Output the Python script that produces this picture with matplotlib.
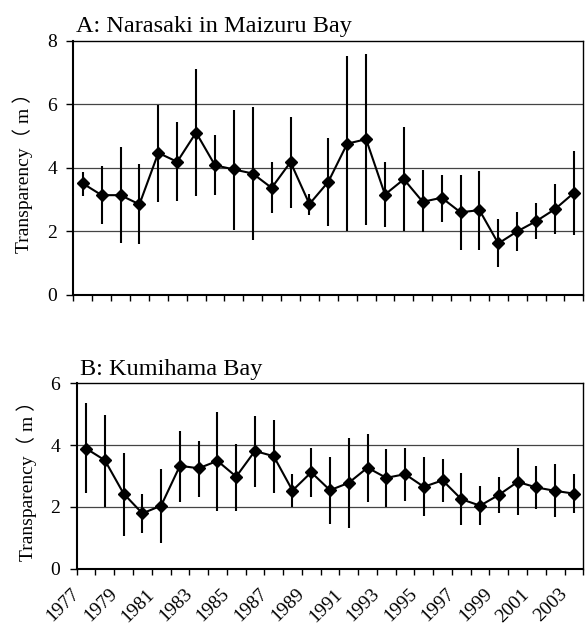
import matplotlib
matplotlib.use("Agg")
import matplotlib.pyplot as plt
import numpy as np

years = list(range(1977, 2004))

a_mean = [3.51, 3.14, 3.14, 2.85, 4.47, 4.19, 5.11, 4.08, 3.95, 3.82, 3.37, 4.18, 2.86, 3.56,
          4.76, 4.90, 3.16, 3.64, 2.93, 3.06, 2.60, 2.67, 1.62, 2.00, 2.32, 2.70, 3.21]
a_max = [3.87, 4.05, 4.66, 4.12, 5.98, 5.43, 7.10, 5.03, 5.83, 5.91, 4.18, 5.59, 3.19, 4.94,
         7.51, 7.59, 4.17, 5.29, 3.92, 3.79, 3.77, 3.90, 2.38, 2.62, 2.88, 3.49, 4.52]
a_min = [3.12, 2.22, 1.65, 1.60, 2.92, 2.96, 3.11, 3.15, 2.03, 1.73, 2.57, 2.74, 2.51, 2.17,
         2.00, 2.21, 2.15, 2.01, 1.97, 2.31, 1.43, 1.43, 0.87, 1.39, 1.76, 1.93, 1.88]

b_mean = [3.89, 3.51, 2.43, 1.79, 2.04, 3.33, 3.25, 3.49, 2.98, 3.81, 3.64, 2.53, 3.12, 2.54,
          2.78, 3.27, 2.94, 3.06, 2.65, 2.86, 2.25, 2.04, 2.39, 2.81, 2.63, 2.52, 2.43]
b_max = [5.37, 4.96, 3.76, 2.43, 3.23, 4.47, 4.14, 5.07, 4.05, 4.93, 4.81, 3.06, 3.92, 3.62,
         4.24, 4.36, 3.88, 3.92, 3.61, 3.54, 3.11, 2.68, 2.98, 3.92, 3.32, 3.39, 3.06]
b_min = [2.44, 2.00, 1.06, 1.16, 0.82, 2.17, 2.31, 1.88, 1.88, 2.64, 2.46, 2.00, 2.31, 1.46,
         1.33, 2.16, 2.00, 2.19, 1.70, 2.17, 1.40, 1.40, 1.79, 1.73, 1.92, 1.68, 1.80]

titles = ["A: Narasaki in Maizuru Bay", "B: Kumihama Bay"]
ylabel = "Transparency（ m ）"

serif = ["Liberation Serif", "DejaVu Serif"]
plt.rcParams["font.family"] = serif

fig = plt.figure(figsize=(5.86, 6.26), dpi=100)
axA = fig.add_axes([0.1251, 0.5288, 0.8703, 0.4062])
axB = fig.add_axes([0.1309, 0.0915, 0.8645, 0.2962])

def draw(ax, mean, mx, mn, ymax, title, show_labels):
    x = np.arange(len(years))
    mean = np.array(mean); mx = np.array(mx); mn = np.array(mn)
    ax.set_xlim(-0.5, len(years) - 0.5)
    ax.set_ylim(0, ymax)
    for g in np.arange(2, ymax, 2):
        ax.axhline(g, color="#444444", lw=0.9, zorder=1)
    ax.errorbar(x, mean, yerr=[mean - mn, mx - mean], fmt="none",
                ecolor="black", elinewidth=1.5, capsize=0, zorder=2)
    ax.plot(x, mean, color="black", lw=1.5, marker="D", markersize=6,
            markerfacecolor="black", markeredgecolor="black", zorder=3)
    bounds = np.arange(len(years) + 1) - 0.5
    ax.set_xticks(bounds)
    if show_labels:
        labs = [str(years[k]) if (k % 2 == 0 and k < len(years)) else "" for k in range(len(bounds))]
        ax.set_xticklabels(labs, rotation=45, ha="right", va="center",
                           rotation_mode="anchor", fontsize=14)
    else:
        ax.set_xticklabels([])
    ax.set_yticks(np.arange(0, ymax + 1, 2))
    ax.tick_params(axis="x", direction="out", length=4.5, width=1.0, pad=12)
    ax.tick_params(axis="y", direction="out", length=4.8, width=1.0, pad=7, labelsize=14)
    for s in ax.spines.values():
        s.set_linewidth(1.0)
    ax.spines["left"].set_linewidth(1.5)
    ax.spines["bottom"].set_linewidth(1.5)
    ax.set_ylabel(ylabel, fontsize=14, family=["Liberation Serif", "Noto Sans CJK JP"], labelpad=10)
    ax.set_title(title, loc="left", fontsize=17.5, pad=6, x=0.006)

draw(axA, a_mean, a_max, a_min, 8, titles[0], False)
draw(axB, b_mean, b_max, b_min, 6, titles[1], True)

fig.savefig("out.png", dpi=100)
